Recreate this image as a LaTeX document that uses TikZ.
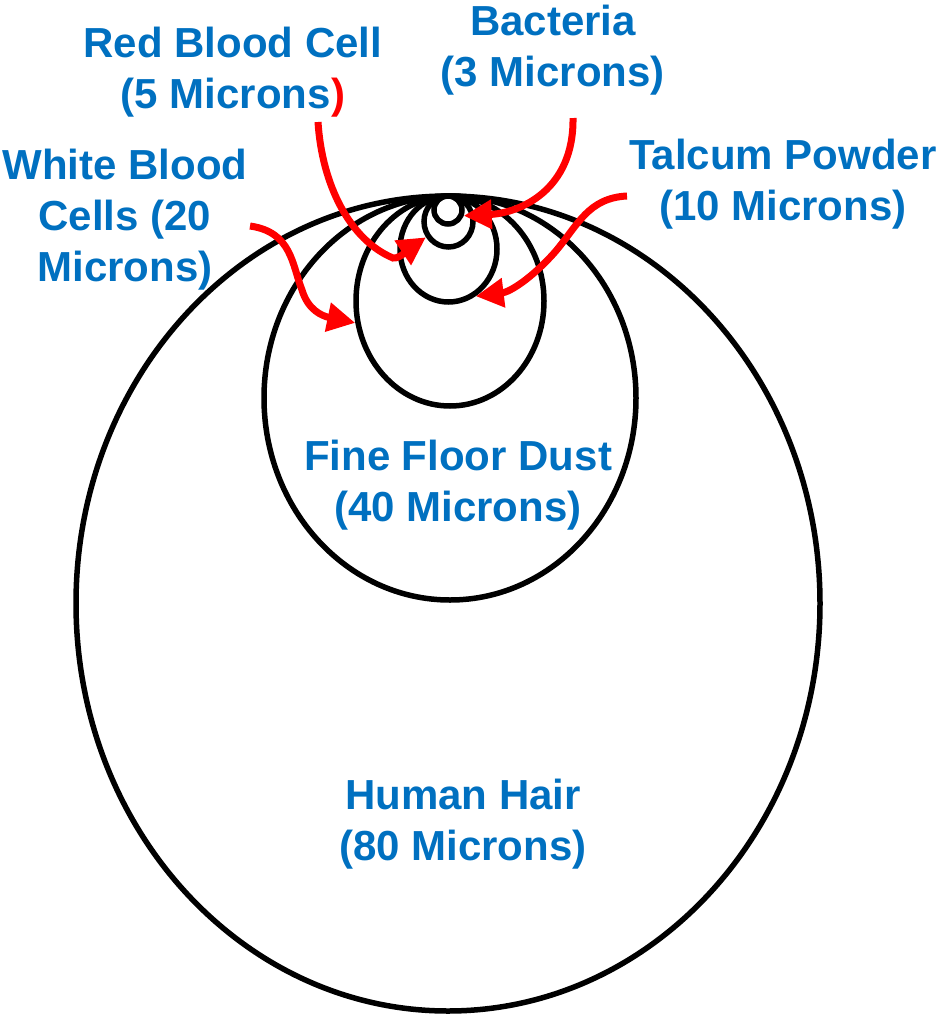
\documentclass[tikz,border=0pt]{standalone}
\usepackage{fontspec}
\setmainfont{Liberation Sans}
\usetikzlibrary{arrows.meta,shapes.geometric}
\definecolor{DustBlue}{RGB}{0,112,192}
\definecolor{DustRed}{RGB}{255,0,0}
\tikzset{
  dust/ring/.style={
    ellipse,
    draw=black,
    line width=5.5pt,
    inner sep=0pt
  },
  dust/label/.style={
    align=center,
    text=DustBlue,
    font=\fontsize{42}{51}\selectfont\bfseries
  },
  dust/arrow/.style={-{Triangle[length=28pt,width=28pt]}, line width=7pt, draw=DustRed}
}
\begin{document}
\begin{tikzpicture}[x=1pt,y=-1pt]
  \useasboundingbox (0,0) rectangle (941,1017);
  % rings, all touching at the top
  \node[dust/ring,minimum width=744pt,minimum height=815pt] (hair) at (448,603.5) {};
  \node[dust/ring,minimum width=372pt,minimum height=404pt] (dust) at (450,398) {};
  \node[dust/ring,minimum width=188pt,minimum height=210pt] (wbc) at (450,301) {};
  \node[dust/ring,minimum width=97pt,minimum height=106pt] (talc) at (448.5,249) {};
  \node[dust/ring,minimum width=49pt,minimum height=51pt] (rbc) at (448.5,221.5) {};
  \node[dust/ring,minimum width=28pt,minimum height=28pt] (bact) at (448,210) {};
  % labels
  \node[dust/label] (hairlbl) at (463,824) {Human Hair\\(80 Microns)};
  \node[dust/label] (dustlbl) at (458,485) {Fine Floor Dust\\(40 Microns)};
  \node[dust/label] (wbclbl) at (125,220) {White Blood\\Cells (20\\Microns)};
  \node[dust/label] (talclbl) at (783,184) {Talcum Powder\\(10 Microns)};
  \node[dust/label] (rbclbl) at (233,72) {Red Blood Cell\\(5 Microns\textcolor{DustRed}{)}};
  \node[dust/label] (bactlbl) at (553,50) {Bacteria\\(3 Microns)};
  % pointers
  \coordinate (rbcfrom) at (318,122);
  \coordinate (bactfrom) at (573,118);
  \coordinate (talcfrom) at (627,196);
  \coordinate (wbcfrom) at (250,226);
  \draw[dust/arrow] (rbcfrom) .. controls (322,185) and (350,240) .. (393,258) .. controls (400,259) and (410,248) .. (rbc.215);
  \draw[dust/arrow] (bactfrom) .. controls (574,190) and (520,213) .. (bact.-20);
  \draw[dust/arrow] (talcfrom) .. controls (588,198) and (578,225) .. (555,252) .. controls (532,278) and (510,292) .. (talc.-60);
  \draw[dust/arrow] (wbcfrom) .. controls (292,232) and (292,265) .. (302,290) .. controls (308,310) and (322,316) .. (wbc.193);
\end{tikzpicture}
\end{document}
